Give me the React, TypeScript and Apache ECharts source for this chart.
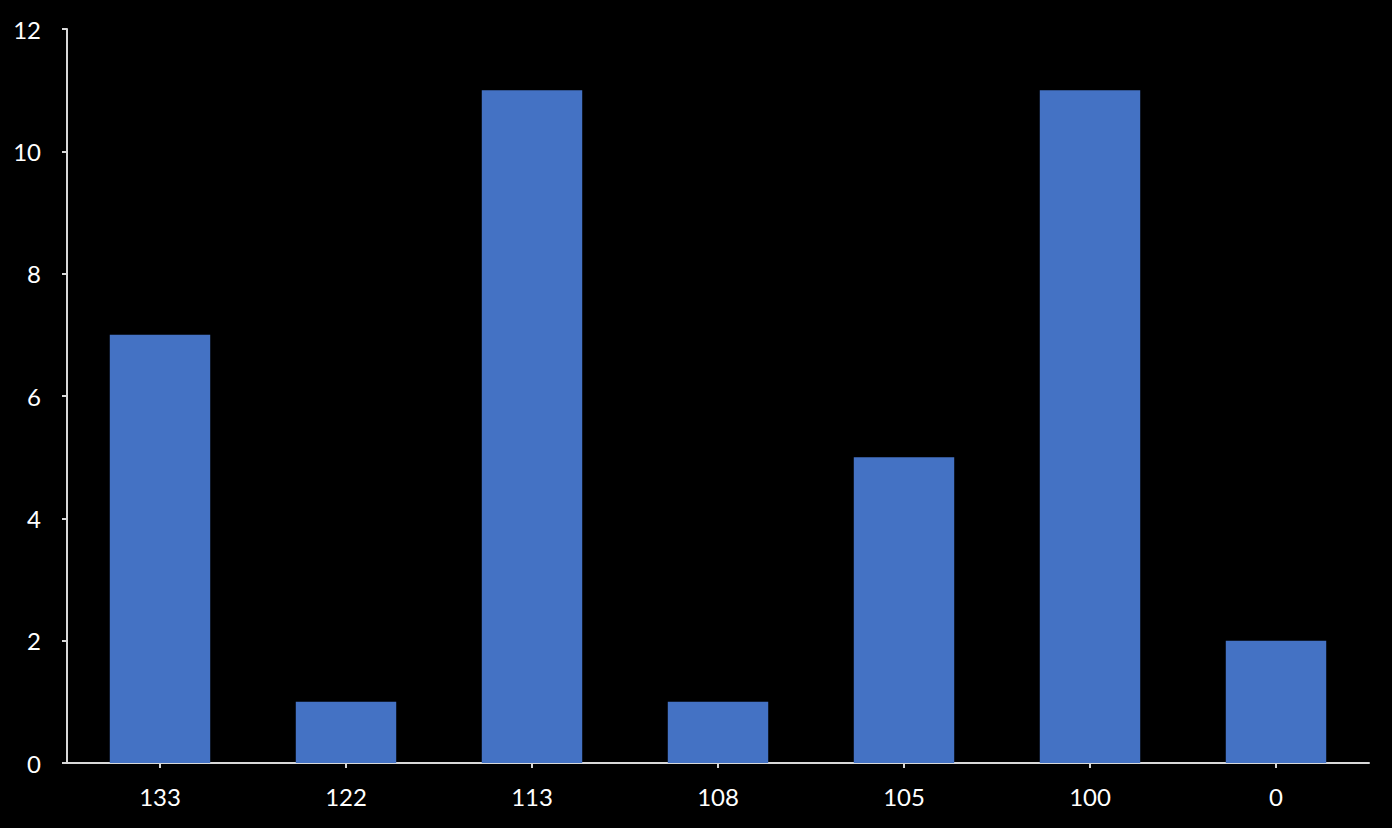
import React, { useEffect, useRef } from "react";
import * as echarts from "echarts";

const categories = ["133", "122", "113", "108", "105", "100", "0"];
const values = [7, 1, 11, 1, 5, 11, 2];
const yTicks = [0, 2, 4, 6, 8, 10, 12];

export default function App() {
  const ref = useRef<HTMLDivElement>(null);
  useEffect(() => {
    if (!ref.current) return;
    const chart = echarts.init(ref.current, undefined, { renderer: "svg" });
    chart.setOption({
      animation: false,
      backgroundColor: "#000000",
      grid: { left: 67, right: 23, top: 29, bottom: 65, containLabel: false },
      xAxis: {
        type: "category",
        data: categories,
        axisLine: { lineStyle: { color: "#d9d9d9", width: 2 } },
        axisTick: { show: true, alignWithLabel: true, length: 5, lineStyle: { color: "#d9d9d9", width: 2 } },
        axisLabel: { color: "#ffffff", fontSize: 24, fontFamily: "Lato, 'Open Sans', sans-serif", margin: 21 },
      },
      yAxis: {
        type: "value",
        min: yTicks[0],
        max: yTicks[yTicks.length - 1],
        interval: 2,
        splitLine: { show: false },
        axisLine: { show: true, lineStyle: { color: "#d9d9d9", width: 2 } },
        axisTick: { show: true, length: 5, lineStyle: { color: "#d9d9d9", width: 2 } },
        axisLabel: { color: "#ffffff", fontSize: 24, fontFamily: "Lato, 'Open Sans', sans-serif", margin: 26 },
      },
      series: [
        {
          type: "bar",
          data: values,
          barWidth: "54%",
          itemStyle: { color: "#4472C4" },
        },
      ],
    });
    return () => chart.dispose();
  }, []);
  return <div ref={ref} style={{ position: "fixed", left: 0, top: 0, width: 1392, height: 828 }} />;
}
